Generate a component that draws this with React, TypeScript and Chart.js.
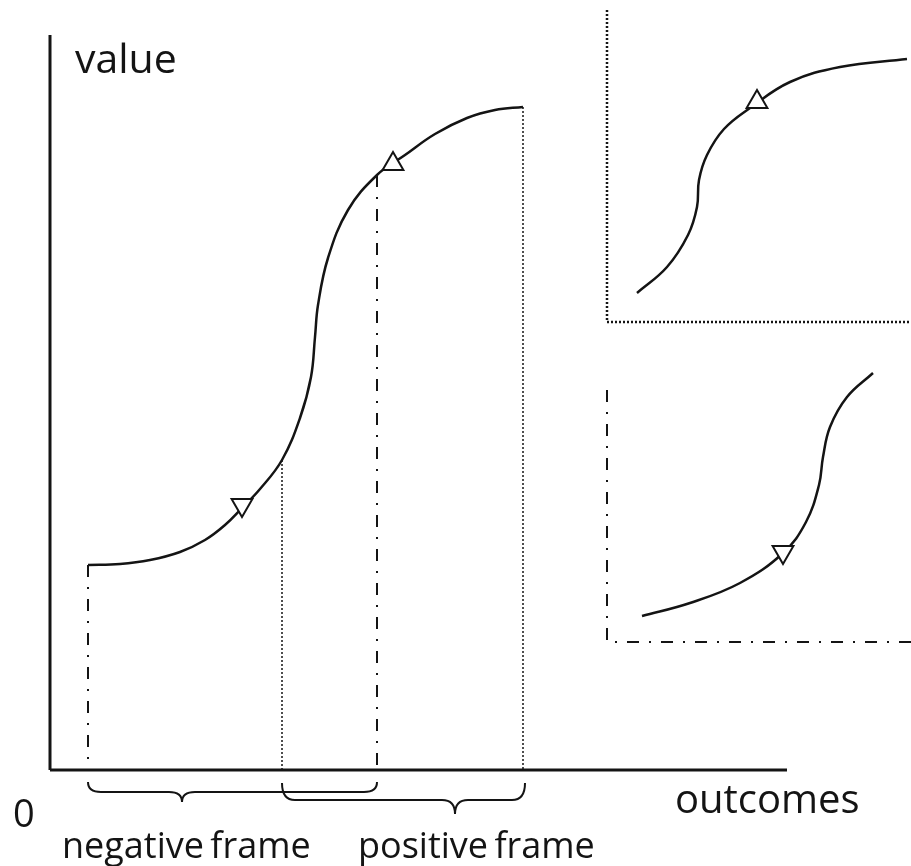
import { useEffect, useRef } from "react";
import { Chart, registerables } from "chart.js";

Chart.register(...registerables);

type P = { x: number; y: number };

// Coordinate space: origin at the main axes' origin, 1 unit ≈ 1 px
const X_MIN = -50;
const X_MAX = 861;
const Y_MIN = -96;
const Y_MAX = 770;

// Main value function (outcomes -> value)
const mainCurve: P[] = [
  { x: 38, y: 205 },
  { x: 70, y: 206 },
  { x: 100, y: 210 },
  { x: 130, y: 218 },
  { x: 155, y: 230 },
  { x: 175, y: 245 },
  { x: 192, y: 262 },
  { x: 210, y: 281 },
  { x: 232, y: 310 },
  { x: 250, y: 352 },
  { x: 261, y: 393 },
  { x: 265, y: 433 },
  { x: 268, y: 465 },
  { x: 278, y: 512 },
  { x: 298, y: 560 },
  { x: 327, y: 595 },
  { x: 355, y: 615 },
  { x: 385, y: 636 },
  { x: 417, y: 652 },
  { x: 445, y: 660 },
  { x: 473, y: 663 },
];

// Upper inset (positive frame)
const positiveInsetCurve: P[] = [
  { x: 587, y: 477 },
  { x: 617, y: 503 },
  { x: 638, y: 535 },
  { x: 647, y: 563 },
  { x: 649, y: 590 },
  { x: 657, y: 615 },
  { x: 674, y: 641 },
  { x: 700, y: 662 },
  { x: 740, y: 688 },
  { x: 790, y: 703 },
  { x: 857, y: 711 },
];

// Lower inset (negative frame)
const negativeInsetCurve: P[] = [
  { x: 592, y: 154 },
  { x: 640, y: 167 },
  { x: 690, y: 187 },
  { x: 733, y: 217 },
  { x: 756, y: 248 },
  { x: 769, y: 285 },
  { x: 773, y: 313 },
  { x: 780, y: 343 },
  { x: 797, y: 373 },
  { x: 823, y: 397 },
];

// Axes
const valueAxis: P[] = [
  { x: 0, y: 0 },
  { x: 0, y: 735 },
];
const outcomeAxis: P[] = [
  { x: 0, y: 0 },
  { x: 737, y: 0 },
];

// Frame boundaries dropped from the curve to the outcome axis
const negFrameStart: P[] = [
  { x: 38, y: 205 },
  { x: 38, y: 0 },
];
const negFrameEnd: P[] = [
  { x: 327, y: 595 },
  { x: 327, y: 0 },
];
const posFrameStart: P[] = [
  { x: 232, y: 310 },
  { x: 232, y: 0 },
];
const posFrameEnd: P[] = [
  { x: 473, y: 663 },
  { x: 473, y: 0 },
];

// Inset frames
const posInsetFrame: P[] = [
  { x: 557, y: 760 },
  { x: 557, y: 448 },
  { x: 861, y: 448 },
];
const negInsetFrame: P[] = [
  { x: 557, y: 380 },
  { x: 557, y: 128 },
  { x: 861, y: 128 },
];

// Direction markers
const upMarkers: P[] = [
  { x: 343, y: 606 },
  { x: 707, y: 668 },
];
const downMarkers: P[] = [
  { x: 192, y: 265 },
  { x: 733, y: 218 },
];

// Braces under the outcome axis
const braceStart = [38, 232];
const braceTip = [132, 405];
const braceEnd = [327, 475];
const braceTop = [-12, -13];
const braceMid = [-22, -30];
const braceTipY = [-32, -44];

// Labels
const labelTexts = ["value", "0", "outcomes", "negative frame", "positive frame"];
const labelX = [25, -37, 625, 12, 308];
const labelY = [697, -57, -43, -88, -88];
const labelSizes = [41, 38, 40, 36, 36];

const INK = "#141414";
const DASH_DOT = [12, 10, 2, 10];
const DOT_MAIN = [2, 2];
const DOT_INSET = [2, 2];

const extras = {
  id: "diagramExtras",
  afterDatasetsDraw(chart: any) {
    const ctx: any = chart.ctx;
    const xs = chart.scales.x;
    const ys = chart.scales.y;
    ctx.save();
    ctx.strokeStyle = INK;
    ctx.lineWidth = 2;
    ctx.setLineDash([]);
    braceStart.forEach((bx, i) => {
      const x0 = xs.getPixelForValue(bx);
      const x1 = xs.getPixelForValue(braceEnd[i]);
      const xt = xs.getPixelForValue(braceTip[i]);
      const yt = ys.getPixelForValue(braceTop[i]);
      const ym = ys.getPixelForValue(braceMid[i]);
      const yp = ys.getPixelForValue(braceTipY[i]);
      const c = 13;
      ctx.beginPath();
      ctx.moveTo(x0, yt);
      ctx.quadraticCurveTo(x0, ym, x0 + c, ym);
      ctx.lineTo(xt - c, ym);
      ctx.quadraticCurveTo(xt, ym, xt, yp);
      ctx.quadraticCurveTo(xt, ym, xt + c, ym);
      ctx.lineTo(x1 - c, ym);
      ctx.quadraticCurveTo(x1, ym, x1, yt);
      ctx.stroke();
    });
    ctx.fillStyle = INK;
    ctx.textAlign = "left";
    ctx.textBaseline = "alphabetic";
    if ("wordSpacing" in ctx) ctx.wordSpacing = "-3px";
    labelTexts.forEach((t, i) => {
      ctx.font = `${labelSizes[i]}px "Open Sans", "Noto Sans", sans-serif`;
      ctx.fillText(t, xs.getPixelForValue(labelX[i]), ys.getPixelForValue(labelY[i]));
    });
    ctx.restore();
  },
};

function lineSet(data: P[], width: number, dash: number[], extra: any = {}) {
  return {
    type: "scatter" as const,
    data,
    showLine: true,
    borderColor: INK,
    borderWidth: width,
    borderDash: dash,
    pointRadius: 0,
    pointHoverRadius: 0,
    fill: false,
    ...extra,
  };
}

export default function App() {
  const ref = useRef<HTMLCanvasElement | null>(null);

  useEffect(() => {
    document.body.style.margin = "0";
    const canvas = ref.current;
    if (!canvas) return;
    const chart = new Chart(canvas, {
      type: "scatter",
      data: {
        datasets: [
          {
            type: "scatter",
            data: upMarkers,
            pointStyle: "triangle",
            rotation: 0,
            pointRadius: 12,
            pointBackgroundColor: "#ffffff",
            pointBorderColor: INK,
            pointBorderWidth: 2,
            showLine: false,
          },
          {
            type: "scatter",
            data: downMarkers,
            pointStyle: "triangle",
            rotation: 180,
            pointRadius: 12,
            pointBackgroundColor: "#ffffff",
            pointBorderColor: INK,
            pointBorderWidth: 2,
            showLine: false,
          },
          lineSet(mainCurve, 2.5, [], { tension: 0.4 }),
          lineSet(positiveInsetCurve, 2.5, [], { tension: 0.4 }),
          lineSet(negativeInsetCurve, 2.5, [], { tension: 0.4 }),
          lineSet(valueAxis, 3, []),
          lineSet(outcomeAxis, 3, []),
          lineSet(negFrameStart, 2, DASH_DOT),
          lineSet(negFrameEnd, 2, DASH_DOT),
          lineSet(posFrameStart, 1.5, DOT_MAIN),
          lineSet(posFrameEnd, 1.5, DOT_MAIN),
          lineSet(posInsetFrame, 2.5, DOT_INSET),
          lineSet(negInsetFrame, 2, DASH_DOT),
        ] as any,
      },
      options: {
        responsive: false,
        animation: false,
        devicePixelRatio: 1,
        layout: { padding: 0, autoPadding: false },
        plugins: {
          legend: { display: false },
          tooltip: { enabled: false },
        },
        events: [],
        scales: {
          x: { type: "linear", min: X_MIN, max: X_MAX, display: false },
          y: { type: "linear", min: Y_MIN, max: Y_MAX, display: false },
        },
      },
      plugins: [extras],
    });
    return () => chart.destroy();
  }, []);

  return (
    <div style={{ width: 911, height: 866, background: "#ffffff" }}>
      <canvas ref={ref} width={911} height={866} style={{ display: "block" }} />
    </div>
  );
}
